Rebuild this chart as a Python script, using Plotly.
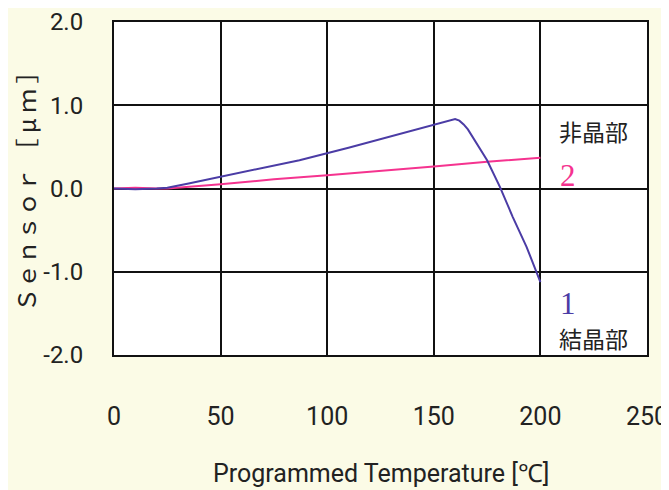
import plotly.graph_objects as go

# Series 1 (crystalline part, blue)
temp1 = [0, 10, 20, 25, 35, 50, 70, 87, 110, 134, 150, 155, 158, 160, 162, 164, 166, 168, 170, 175, 181, 187, 193.5, 200]
sensor1 = [0.0, -0.01, 0.0, 0.01, 0.06, 0.14, 0.25, 0.34, 0.49, 0.66, 0.77, 0.80, 0.825, 0.835, 0.815, 0.77, 0.71, 0.63, 0.54, 0.34, 0.02, -0.34, -0.70, -1.125]

# Series 2 (amorphous part, pink)
temp2 = [0, 10, 20, 25, 50, 75, 100, 125, 150, 175, 200]
sensor2 = [0.0, 0.01, 0.0, 0.0, 0.05, 0.11, 0.16, 0.21, 0.265, 0.32, 0.37]

x_ticks = [0, 50, 100, 150, 200, 250]
x_ticktext = ["0", "50", "100", "150", "200", "250"]
y_ticks = [-2, -1, 0, 1, 2]
y_ticktext = ["-2.0", "-1.0", "0.0", "1.0", "2.0"]

BLUE = "#4b3ca5"
PINK = "#f5338f"
FONT = "Roboto, sans-serif"

fig = go.Figure()
fig.add_trace(go.Scatter(x=temp2, y=sensor2, mode="lines",
                         line=dict(color=PINK, width=2), showlegend=False))
fig.add_trace(go.Scatter(x=temp1, y=sensor1, mode="lines",
                         line=dict(color=BLUE, width=2), showlegend=False))

anns = [
    dict(x=225.1, y=0.69, text="非晶部", font=dict(family="Noto Sans CJK JP", size=23, color="#222")),
    dict(x=212.9, y=0.16, text="2", font=dict(family="Liberation Serif", size=31, color=PINK)),
    dict(x=212.9, y=-1.38, text="1", font=dict(family="Liberation Serif", size=31, color=BLUE)),
    dict(x=225.1, y=-1.80, text="結晶部", font=dict(family="Noto Sans CJK JP", size=23, color="#222")),
]
for a in anns:
    fig.add_annotation(xref="x", yref="y", showarrow=False, xanchor="center", yanchor="middle", **a)

fig.add_annotation(xref="paper", yref="paper", x=(25 - 114) / 533, y=(355 - 186) / 333,
                   text="Ｓｅｎｓｏｒ ［ μ ｍ ］", textangle=-90, showarrow=False,
                   xanchor="center", yanchor="middle",
                   font=dict(family="Noto Sans CJK JP", size=24, color="#222"))
fig.add_annotation(xref="paper", yref="paper", x=0.5, y=(355 - 473) / 333,
                   text="Programmed Temperature [℃]", showarrow=False,
                   xanchor="center", yanchor="middle",
                   font=dict(family=FONT, size=25, color="#222"))

fig.update_xaxes(range=[0, 250], tickvals=x_ticks, ticktext=x_ticktext,
                 showgrid=True, gridcolor="#111", gridwidth=1.5,
                 showline=True, linecolor="#111", linewidth=2, mirror=True,
                 zeroline=False, ticks="outside", ticklen=38, tickcolor="rgba(0,0,0,0)",
                 tickfont=dict(family=FONT, size=25, color="#222"), automargin=False)
fig.update_yaxes(range=[-2, 2], tickvals=y_ticks, ticktext=y_ticktext,
                 showgrid=True, gridcolor="#111", gridwidth=1.5,
                 showline=True, linecolor="#111", linewidth=2, mirror=True,
                 zeroline=False, ticks="outside", ticklen=24, tickcolor="rgba(0,0,0,0)",
                 tickfont=dict(family=FONT, size=24, color="#222"), automargin=False)

# page body has an 8px default margin, so the figure is sized/offset to compensate
fig.update_layout(width=661, height=482,
                  margin=dict(l=106, r=22, t=14, b=135),
                  paper_bgcolor="#fbfbe6", plot_bgcolor="#ffffff",
                  showlegend=False)

fig.write_html("out.html")
